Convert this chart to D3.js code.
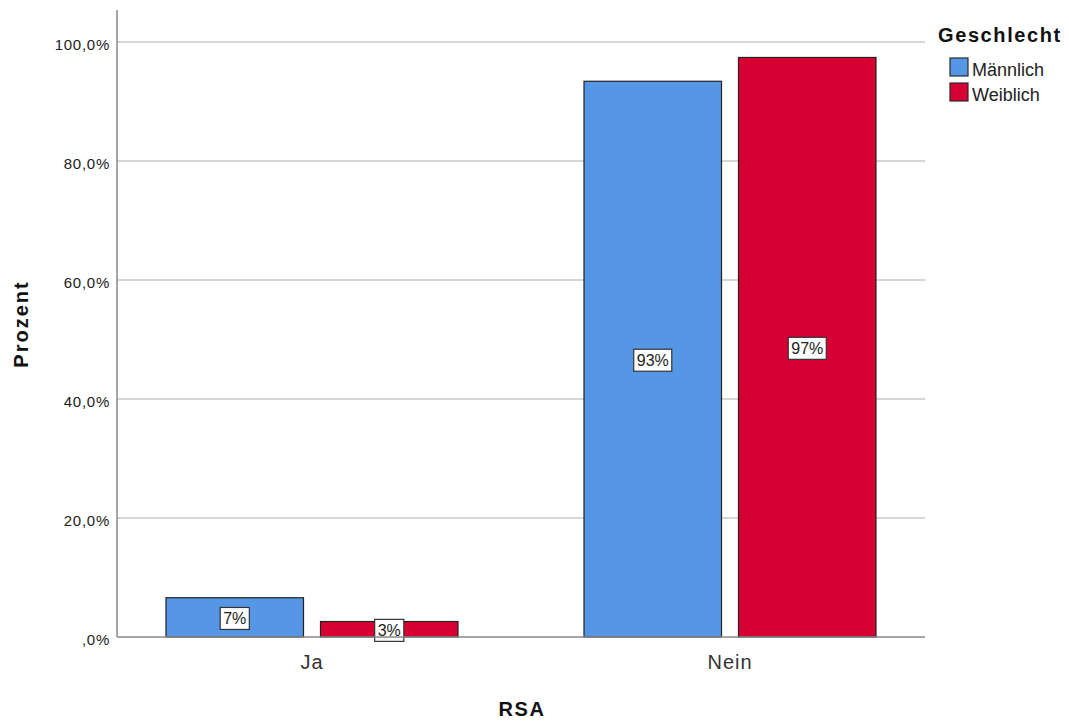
<!DOCTYPE html>
<html><head><meta charset="utf-8">
<script src="https://cdn.jsdelivr.net/npm/d3@7"></script>
<style>body{margin:0;background:#fff;}text{font-family:Arial,"Liberation Sans",sans-serif;}</style>
</head><body>
<svg id="c" width="1069" height="724"></svg>
<script>
const categories = ["Ja", "Nein"];
const series = ["Männlich", "Weiblich"];
const valuesMaennlich = [6.6, 93.4];
const valuesWeiblich = [2.6, 97.4];
const valueLabelsMaennlich = ["7%", "93%"];
const valueLabelsWeiblich = ["3%", "97%"];
const yTicks = [0, 20, 40, 60, 80, 100];
const yTickLabels = [",0%", "20,0%", "40,0%", "60,0%", "80,0%", "100,0%"];
const colors = ["#5596e5", "#d60032"];

(function () {
const FONT = "Arial, 'Liberation Sans', sans-serif";
const svg = d3.select("#c");
const pLeft = 117, pRight = 925, pTop = 42, pBottom = 637;
const y = d3.scaleLinear().domain([0, 100]).range([pBottom, pTop]);
const x0 = d3.scaleBand().domain(categories).range([103, 939]).padding(0);
const x1 = d3.scaleBand().domain(series).range([63, 355]).paddingInner(0.11).paddingOuter(0);

// gridlines
svg.append("g").selectAll("line").data(yTicks.filter(d => d > 0)).join("line")
  .attr("x1", pLeft).attr("x2", pRight).attr("y1", d => y(d)).attr("y2", d => y(d))
  .attr("stroke", "#c8c8c8").attr("stroke-width", 1.5);

// y axis
const yAxis = d3.axisLeft(y).tickValues(yTicks).tickSize(0).tickPadding(7)
  .tickFormat((d, i) => yTickLabels[i]);
const gy = svg.append("g").attr("transform", `translate(${pLeft},0)`).call(yAxis);
gy.select(".domain").remove();
gy.selectAll("text").attr("font-size", 15).attr("fill", "#222").attr("font-family", FONT)
  .attr("letter-spacing", "0.05em").attr("dy", "0.5em");
svg.append("line").attr("x1", pLeft).attr("x2", pLeft).attr("y1", 10).attr("y2", pBottom)
  .attr("stroke", "#888").attr("stroke-width", 1.5);

// bars
const data = categories.map((c, i) => ({
  cat: c,
  vals: [
    {s: series[0], v: valuesMaennlich[i], l: valueLabelsMaennlich[i], c: colors[0]},
    {s: series[1], v: valuesWeiblich[i], l: valueLabelsWeiblich[i], c: colors[1]}
  ]
}));
const groups = svg.append("g").selectAll("g").data(data).join("g")
  .attr("transform", d => `translate(${x0(d.cat)},0)`);
groups.selectAll("rect").data(d => d.vals).join("rect")
  .attr("x", d => x1(d.s)).attr("width", x1.bandwidth())
  .attr("y", d => y(d.v)).attr("height", d => pBottom - y(d.v))
  .attr("fill", d => d.c).attr("stroke", "#222").attr("stroke-width", 1.2);

// x axis line
svg.append("line").attr("x1", pLeft).attr("x2", pRight).attr("y1", pBottom).attr("y2", pBottom)
  .attr("stroke", "#888").attr("stroke-width", 1.5);

// value labels
const lab = groups.selectAll("g.lab").data(d => d.vals).join("g").attr("class", "lab")
  .attr("transform", d => `translate(${x1(d.s) + x1.bandwidth() / 2},${(y(d.v) + pBottom) / 2 + 1.5})`);
lab.each(function(d) {
  const g = d3.select(this);
  const t = g.append("text").text(d.l).attr("text-anchor", "middle").attr("dy", "0.35em")
    .attr("font-size", 16).attr("fill", "#222");
  const bb = t.node().getBBox();
  g.insert("rect", "text").attr("x", bb.x - 3).attr("y", bb.y - 3)
    .attr("width", bb.width + 6).attr("height", bb.height + 5)
    .attr("fill", "#fff").attr("stroke", "#333").attr("stroke-width", 1.2);
});

// x axis labels
const xAxis = d3.axisBottom(x0).tickSize(0);
const gx = svg.append("g").attr("transform", `translate(0,${pBottom})`).call(xAxis);
gx.select(".domain").remove();
gx.selectAll("text").attr("y", 32).attr("dy", 0).attr("font-size", 20).attr("fill", "#333")
  .attr("font-family", FONT).attr("letter-spacing", "0.05em");

// axis titles
svg.append("text").attr("x", 522).attr("y", 716).attr("text-anchor", "middle")
  .attr("font-size", 20).attr("font-weight", "bold").attr("letter-spacing", "0.08em")
  .attr("fill", "#111").text("RSA");
svg.append("text").attr("transform", "translate(28,324) rotate(-90)").attr("text-anchor", "middle")
  .attr("font-size", 20).attr("font-weight", "bold").attr("letter-spacing", "0.1em")
  .attr("fill", "#111").text("Prozent");

// legend
svg.append("text").attr("x", 938).attr("y", 42).attr("font-size", 20).attr("font-weight", "bold")
  .attr("letter-spacing", "0.08em").attr("fill", "#111").text("Geschlecht");
const lg = svg.append("g").selectAll("g").data(series).join("g")
  .attr("transform", (d, i) => `translate(950,${58 + i * 25})`);
lg.append("rect").attr("width", 18).attr("height", 18).attr("fill", (d, i) => colors[i])
  .attr("stroke", "#2a2a2a").attr("stroke-width", 1.2);
lg.append("text").attr("x", 22).attr("y", 18).attr("font-size", 18).attr("fill", "#222").text(d => d);
})();
</script>
</body></html>
